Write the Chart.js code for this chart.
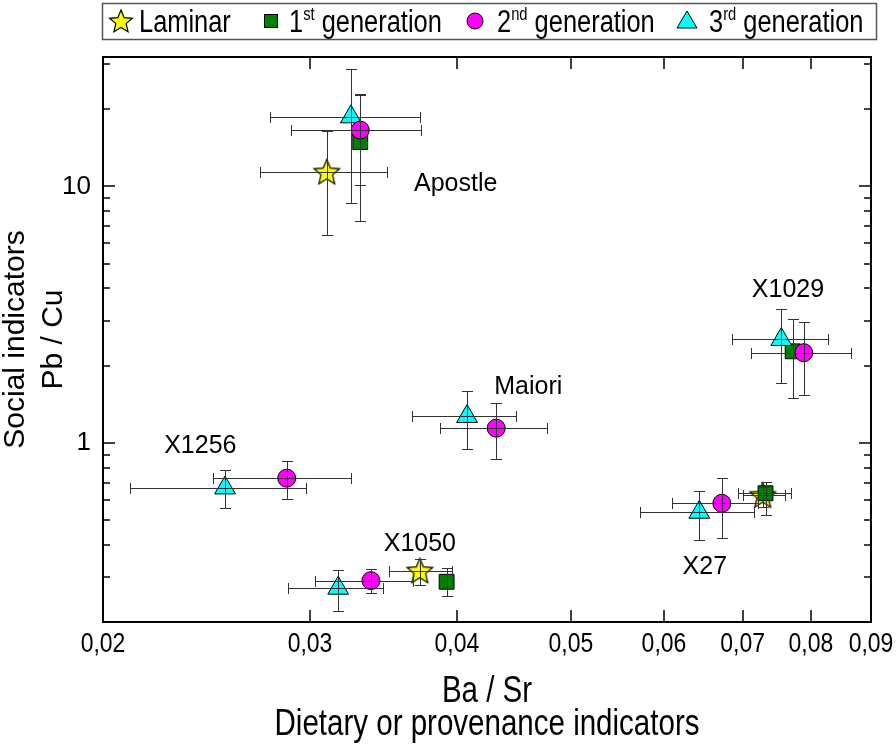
<!DOCTYPE html>
<html>
<head>
<meta charset="utf-8">
<script src="https://cdn.jsdelivr.net/npm/chart.js@4.4.1/dist/chart.umd.min.js"></script>
<style>
  body { margin: 0; background: #fff; }
  #wrap { width: 896px; height: 745px; }
</style>
</head>
<body>
<div id="wrap"><canvas id="chart" width="896" height="745"></canvas></div>
<script>
const REGULAR = "'Liberation Sans', Arial, sans-serif";

// axis ticks
const xTicks = [0.02, 0.03, 0.04, 0.05, 0.06, 0.07, 0.08, 0.09];
const yTicks = [1, 10];
const yMinorTicks = [0.2, 0.3, 0.4, 0.5, 0.6, 0.7, 0.8, 0.9, 2, 3, 4, 5, 6, 7, 8, 9, 20, 30];
const xTitle = ['Ba / Sr', 'Dietary or provenance indicators'];

// Laminar: Apostle, X1050, X27
const laminarX = [0.0310, 0.0372, 0.0728];
const laminarY = [11.4, 0.317, 0.625];
const laminarXErr = [[0.0272, 0.0349], [0.0350, 0.0396], [0.0700, 0.0760]];
const laminarYErr = [[6.49, 16.4], [0.280, 0.352], [0.56, 0.67]];

// 1st generation: Apostle, X1029, X27, X1050
const firstX = [0.0331, 0.0772, 0.0732, 0.0392];
const firstY = [14.9, 2.275, 0.636, 0.287];
const firstXErr = [null, null, [0.0694, 0.0769], null];
const firstYErr = [[7.36, 22.7], [1.494, 3.03], [0.523, 0.706], [0.252, 0.324]];

// 2nd generation: Apostle, X1029, Maiori, X1256, X1050, X27
const secondX = [0.0331, 0.0789, 0.0432, 0.02866, 0.0338, 0.0672];
const secondY = [16.6, 2.247, 1.141, 0.728, 0.290, 0.581];
const secondXErr = [[0.0289, 0.0373], [0.0712, 0.0866], [0.0387, 0.0477], [0.02482, 0.03248], [0.0303, 0.0367], [0.0609, 0.0722]];
const secondYErr = [[10.1, 22.9], [1.54, 2.96], [0.861, 1.433], [0.604, 0.853], [0.259, 0.322], [0.424, 0.730]];

// 3rd generation: Apostle, X1029, Maiori, X1256, X1050, X27
const thirdX = [0.0325, 0.0755, 0.0408, 0.0254, 0.0317, 0.0643];
const thirdY = [18.7, 2.53, 1.267, 0.667, 0.271, 0.536];
const thirdXErr = [[0.02774, 0.0372], [0.0685, 0.0828], [0.0366, 0.0449], [0.02108, 0.02974], [0.02876, 0.0346], [0.0572, 0.0715]];
const thirdYErr = [[8.66, 28.7], [1.715, 3.32], [0.942, 1.586], [0.557, 0.780], [0.221, 0.319], [0.419, 0.651]];

// site labels
const siteNames = ['Apostle', 'X1029', 'Maiori', 'X1256', 'X1050', 'X27'];
const siteX = [0.0399, 0.0765, 0.046, 0.0242, 0.0372, 0.065];
const siteY = [10.2, 3.93, 1.655, 0.973, 0.403, 0.328];

function makeStar(R, fill) {
    const c = document.createElement('canvas');
    const s = Math.ceil(2 * R + 4);
    c.width = s; c.height = s;
    const g = c.getContext('2d');
    g.beginPath();
    for (let i = 0; i < 10; i++) {
        const r = i % 2 ? R * 0.45 : R;
        const a = -Math.PI / 2 + i * Math.PI / 5;
        g.lineTo(s / 2 + r * Math.cos(a), s / 2 + r * Math.sin(a) + 1);
    }
    g.closePath();
    g.fillStyle = fill;
    g.fill();
    g.strokeStyle = '#000';
    g.lineWidth = 1.2;
    g.stroke();
    return c;
}

const starImg = makeStar(13.5, '#ffff00');
const starSmall = makeStar(12, '#ffff00');

function points(xs, ys, xe, ye) {
    return xs.map((x, i) => ({ x: x, y: ys[i], xErr: xe[i], yErr: ye[i] }));
}

const datasets = [
    { label: 'Laminar', data: points(laminarX, laminarY, laminarXErr, laminarYErr),
      pointStyle: starImg, order: 3 },
    { label: '1st generation', data: points(firstX, firstY, firstXErr, firstYErr),
      pointStyle: 'rect', pointRadius: 10.5, backgroundColor: '#008000', order: 2 },
    { label: '2nd generation', data: points(secondX, secondY, secondXErr, secondYErr),
      pointStyle: 'circle', pointRadius: 9, backgroundColor: '#ff00ff', order: 0 },
    { label: '3rd generation', data: points(thirdX, thirdY, thirdXErr, thirdYErr),
      pointStyle: 'triangle', pointRadius: 12, backgroundColor: '#00ffff', order: 1 }
];
datasets.forEach(ds => {
    ds.borderColor = '#000';
    ds.borderWidth = 1;
    ds.showLine = false;
    if (!ds.pointRadius) ds.pointRadius = 12;
});

function line(ctx, x1, y1, x2, y2) {
    ctx.beginPath();
    ctx.moveTo(x1, y1);
    ctx.lineTo(x2, y2);
    ctx.stroke();
}

const errorBars = {
    id: 'errorBars',
    afterDatasetsDraw(chart) {
        const ctx = chart.ctx, xs = chart.scales.x, ys = chart.scales.y;
        const cap = 5.5;
        const px = v => Math.round(xs.getPixelForValue(v)) + 0.5;
        const py = v => Math.round(ys.getPixelForValue(v)) + 0.5;
        ctx.save();
        ctx.strokeStyle = '#333';
        ctx.lineWidth = 1;
        chart.data.datasets.forEach(ds => {
            ds.data.forEach(p => {
                const cx = px(p.x), cy = py(p.y);
                if (p.xErr) {
                    const x0 = px(p.xErr[0]), x1 = px(p.xErr[1]);
                    line(ctx, x0, cy, x1, cy);
                    line(ctx, x0, cy - cap, x0, cy + cap);
                    line(ctx, x1, cy - cap, x1, cy + cap);
                }
                if (p.yErr) {
                    const y0 = py(p.yErr[0]), y1 = py(p.yErr[1]);
                    line(ctx, cx, y0, cx, y1);
                    line(ctx, cx - cap, y0, cx + cap, y0);
                    line(ctx, cx - cap, y1, cx + cap, y1);
                }
            });
        });
        ctx.restore();
    }
};

// Arial Narrow look: Liberation Sans squeezed horizontally
function narrowText(ctx, text, x, y, size, align) {
    ctx.save();
    ctx.font = size + 'px ' + REGULAR;
    const w = ctx.measureText(text).width * 0.82;
    if (align === 'center') x -= w / 2;
    ctx.translate(x, y);
    ctx.scale(0.82, 1);
    ctx.textAlign = 'left';
    ctx.fillText(text, 0, 0);
    ctx.restore();
    return w;
}

const frameAndLabels = {
    id: 'frameAndLabels',
    afterDraw(chart) {
        const ctx = chart.ctx, a = chart.chartArea;
        const xs = chart.scales.x, ys = chart.scales.y;
        ctx.save();
        ctx.strokeStyle = '#000';
        ctx.lineWidth = 2;
        ctx.strokeRect(a.left, a.top, a.right - a.left, a.bottom - a.top);
        ctx.lineWidth = 1.5;
        xTicks.forEach(v => {
            const px = Math.round(xs.getPixelForValue(v));
            line(ctx, px, a.bottom, px, a.bottom - 12);
            line(ctx, px, a.top, px, a.top + 12);
        });
        yTicks.forEach(v => {
            const py = Math.round(ys.getPixelForValue(v));
            line(ctx, a.left, py, a.left + 12, py);
            line(ctx, a.right, py, a.right - 12, py);
        });
        yMinorTicks.forEach(v => {
            const py = Math.round(ys.getPixelForValue(v));
            line(ctx, a.left, py, a.left + 7, py);
            line(ctx, a.right, py, a.right - 7, py);
        });

        // x tick labels and title, narrow face
        ctx.fillStyle = '#000';
        ctx.textBaseline = 'alphabetic';
        xTicks.forEach(v => {
            narrowText(ctx, v.toFixed(2).replace('.', ','), xs.getPixelForValue(v), a.bottom + 30, 28, 'center');
        });
        const midX = (a.left + a.right) / 2;
        narrowText(ctx, xTitle[0], midX, 702, 36, 'center');
        narrowText(ctx, xTitle[1], midX, 735, 36, 'center');

        // site names
        ctx.font = '25px ' + REGULAR;
        ctx.textAlign = 'center';
        ctx.textBaseline = 'middle';
        siteNames.forEach((name, i) => {
            ctx.fillText(name, xs.getPixelForValue(siteX[i]), ys.getPixelForValue(siteY[i]));
        });

        // legend
        ctx.lineWidth = 1.5;
        ctx.strokeStyle = '#555';
        ctx.strokeRect(102.5, 3.5, 774, 36);
        const ly = 21;
        ctx.drawImage(starSmall, 121 - starSmall.width / 2, ly - starSmall.height / 2);
        ctx.lineWidth = 1;
        ctx.strokeStyle = '#000';
        ctx.fillStyle = '#008000';
        ctx.fillRect(264, ly - 7, 14, 14);
        ctx.strokeRect(264.5, ly - 6.5, 13, 13);
        ctx.beginPath();
        ctx.arc(475, ly, 8, 0, Math.PI * 2);
        ctx.fillStyle = '#ff00ff';
        ctx.fill();
        ctx.stroke();
        ctx.beginPath();
        ctx.moveTo(687, ly - 10);
        ctx.lineTo(697, ly + 7);
        ctx.lineTo(677, ly + 7);
        ctx.closePath();
        ctx.fillStyle = '#00ffff';
        ctx.fill();
        ctx.stroke();

        ctx.fillStyle = '#000';
        ctx.textAlign = 'left';
        ctx.textBaseline = 'alphabetic';
        const base = 32;
        const items = [[139, '', '', 'Laminar'], [289, '1', 'st', ' generation'],
                       [497, '2', 'nd', ' generation'], [709, '3', 'rd', ' generation']];
        items.forEach(it => {
            let x = it[0];
            x += narrowText(ctx, it[1], x, base, 31);
            x += narrowText(ctx, it[2], x, base - 12, 18);
            narrowText(ctx, it[3], x, base, 31);
        });
        ctx.restore();
    }
};

new Chart(document.getElementById('chart'), {
    type: 'scatter',
    data: { datasets: datasets },
    options: {
        responsive: false,
        animation: false,
        layout: { padding: { top: 57, right: 25, bottom: 0, left: 0 } },
        plugins: { legend: { display: false }, tooltip: { enabled: false } },
        scales: {
            x: {
                type: 'logarithmic',
                min: 0.02,
                max: 0.09,
                grid: { display: false, drawTicks: false },
                border: { display: false },
                afterBuildTicks: s => { s.ticks = xTicks.map(v => ({ value: v })); },
                afterFit: s => { s.height = 123; },
                ticks: { display: false }
            },
            y: {
                type: 'logarithmic',
                min: 0.2,
                max: 32,
                grid: { display: false, drawTicks: false },
                border: { display: false },
                afterBuildTicks: s => { s.ticks = yTicks.map(v => ({ value: v })); },
                afterFit: s => { s.width = 103; },
                ticks: {
                    autoSkip: false, color: '#000', padding: 12,
                    font: { family: REGULAR, size: 26 },
                    callback: v => String(v)
                },
                title: {
                    display: true, color: '#000',
                    text: ['Social indicators', 'Pb / Cu'],
                    font: { family: REGULAR, size: 30, lineHeight: 1.25 },
                    padding: { top: -3, bottom: 0 }
                }
            }
        }
    },
    plugins: [errorBars, frameAndLabels]
});
</script>
</body>
</html>
